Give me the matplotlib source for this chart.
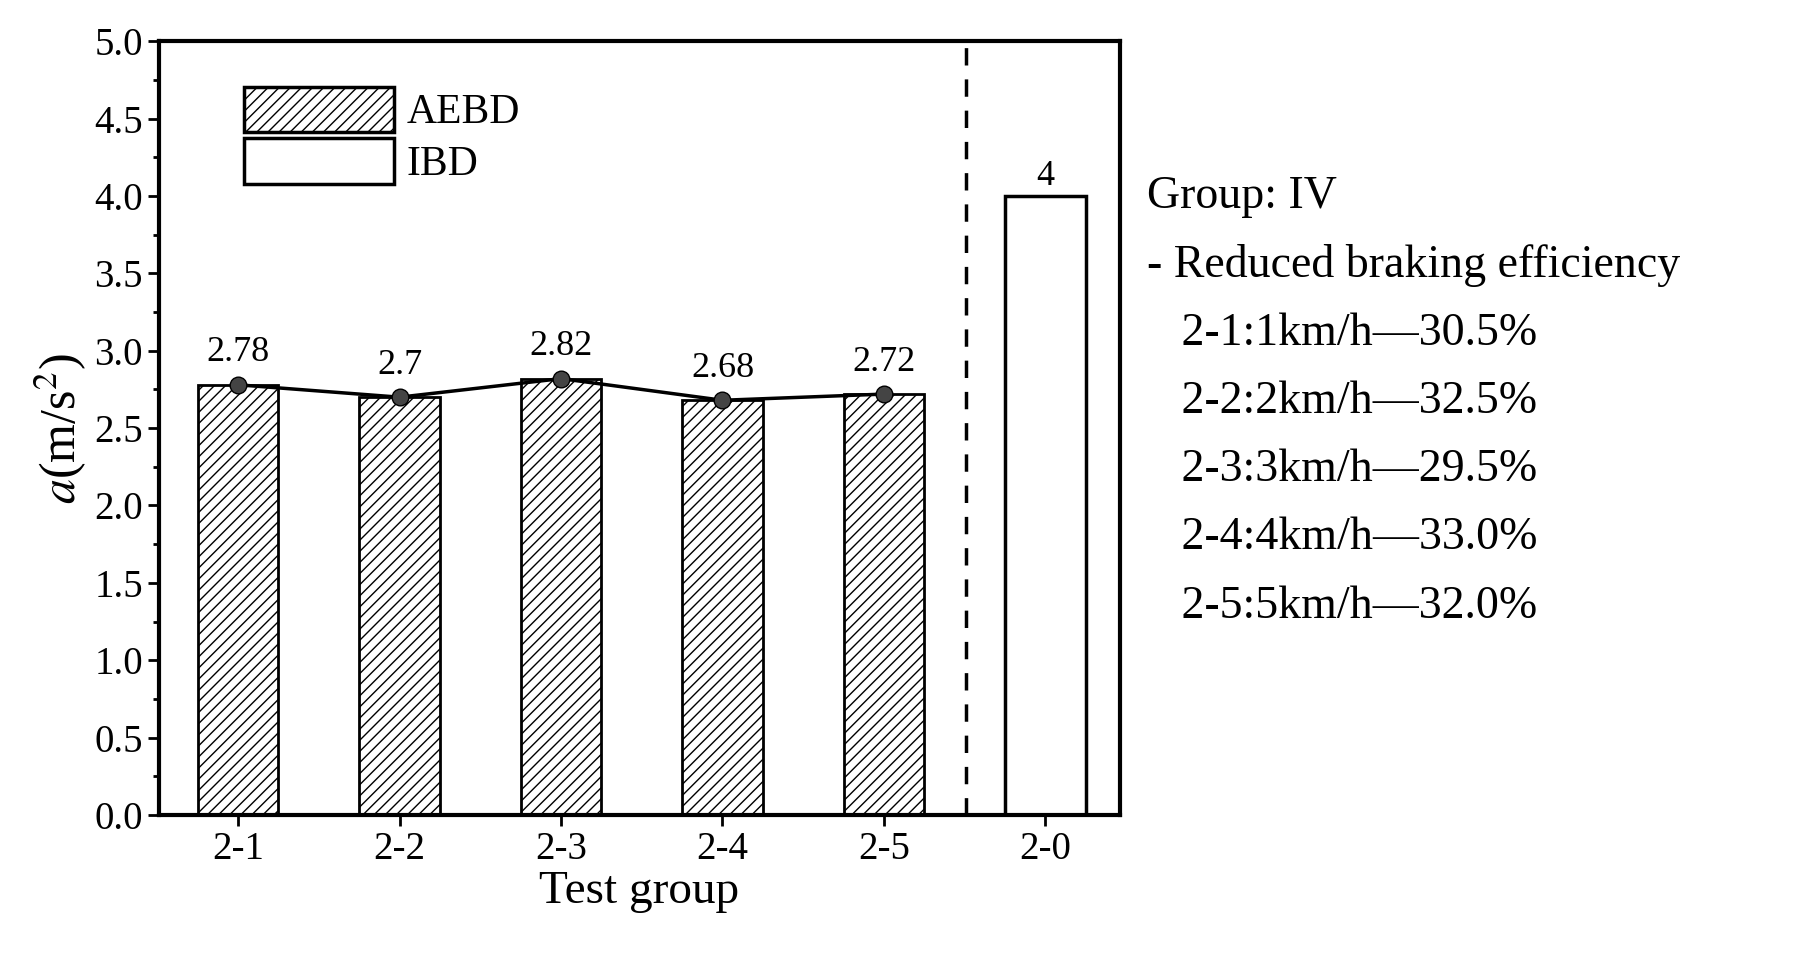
import matplotlib
matplotlib.use("Agg")
import matplotlib.pyplot as plt
from matplotlib.patches import Patch

plt.rcParams['font.family'] = ['Liberation Serif', 'DejaVu Serif']
plt.rcParams['mathtext.fontset'] = 'stix'
plt.rcParams['hatch.linewidth'] = 1.0

groups = ["2-1", "2-2", "2-3", "2-4", "2-5", "2-0"]
aebd = [2.78, 2.7, 2.82, 2.68, 2.72]
ibd = [4]
notes = ["Group: IV", "- Reduced braking efficiency",
         "   2-1:1km/h\u201430.5%", "   2-2:2km/h\u201432.5%", "   2-3:3km/h\u201429.5%",
         "   2-4:4km/h\u201433.0%", "   2-5:5km/h\u201432.0%"]

fig = plt.figure(figsize=(18.06, 9.61), dpi=100)
ax = fig.add_axes([0.088, 0.152, 0.532, 0.805])
xa = list(range(5))
ax.bar(xa, aebd, width=0.5, facecolor='white', edgecolor='black', hatch='///', linewidth=2)
ax.bar([5], ibd, width=0.5, facecolor='white', edgecolor='black', linewidth=2.5)
ax.plot(xa, aebd, color='black', lw=2.5, marker='o', ms=12, mfc='#444444', mec='black', zorder=5)
for x, v in zip(xa, aebd):
    ax.text(x, v + 0.1, f"{v:g}", ha='center', va='bottom', fontsize=26)
ax.text(5, ibd[0] + 0.02, f"{ibd[0]:g}", ha='center', va='bottom', fontsize=26)
ax.axvline(4.51, color='black', ls=(0, (5, 4)), lw=2.5)
ax.set_xlim(-0.49, 5.46)
ax.set_ylim(0, 5.0)
ax.set_xticks(range(6))
ax.set_xticklabels(groups)
ax.set_yticks([i * 0.5 for i in range(11)])
ax.set_yticklabels([f"{i*0.5:.1f}" for i in range(11)])
ax.set_yticks([0.25 + i * 0.5 for i in range(10)], minor=True)
ax.tick_params(axis='both', labelsize=28, width=2, length=8, direction='out')
ax.tick_params(axis='y', which='minor', width=2, length=4)
for s in ax.spines.values():
    s.set_linewidth(3)
ax.set_xlabel("Test group", fontsize=34, labelpad=2)
ax.set_ylabel(r"$a$(m/s$^2$)", fontsize=36, labelpad=4)
ax.legend(handles=[Patch(facecolor='white', edgecolor='black', hatch='///', lw=2.5, label='AEBD'),
                   Patch(facecolor='white', edgecolor='black', lw=2.5, label='IBD')],
          loc='upper left', bbox_to_anchor=(0.05, 0.99), frameon=False, fontsize=30,
          handlelength=3.6, handleheight=1.3, labelspacing=0.15, handletextpad=0.3)
y0 = 0.795
for i, t in enumerate(notes):
    fig.text(0.635, y0 - i * 0.071, t, fontsize=33, va='center', ha='left')
fig.savefig("out.png", dpi=100)
